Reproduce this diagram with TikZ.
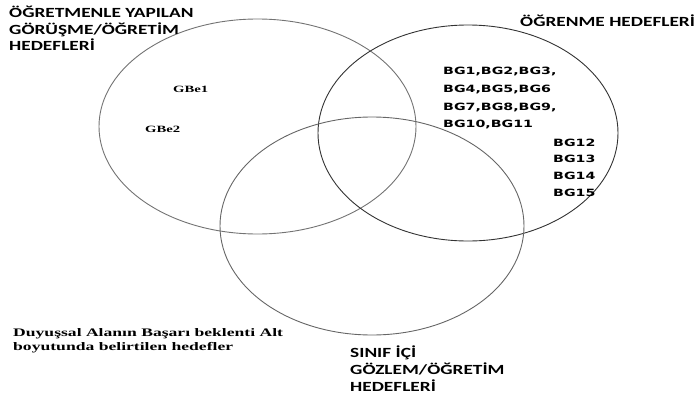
\documentclass[tikz,border=0pt]{standalone}
\usepackage{fontspec}
\setmainfont{Liberation Serif}
\newfontfamily\headfont[FakeStretch=1.38]{Carlito Bold}
\newfontfamily\codefont[FakeStretch=1.42]{DejaVu Sans Bold}
\newfontfamily\notefont[FakeStretch=1.53]{Liberation Serif Bold}
\usetikzlibrary{shapes.geometric}

\tikzset{
  set/.style={draw, ellipse, inner sep=0pt, line width=0.9pt},
  head/.style={anchor=base west, inner sep=0pt,
    font=\headfont\fontsize{14}{16}\selectfont},
  code/.style={anchor=base west, inner sep=0pt,
    font=\codefont\fontsize{10}{17}\selectfont},
  note/.style={anchor=base west, inner sep=0pt,
    font=\notefont\fontsize{11.5}{14}\selectfont},
  item/.style={anchor=base west, inner sep=0pt,
    font=\notefont\fontsize{9.6}{12}\selectfont}
}

\begin{document}
\begin{tikzpicture}[x=1pt,y=-1pt]
    \useasboundingbox (0,0) rectangle (699,399);
    % the three sets
    \node[set, draw=black!55, minimum width=317pt, minimum height=215pt] (gor) at (257.5,126.5) {};
    \node[set, draw=black!80, minimum width=300pt, minimum height=216pt] (ogr) at (468,133) {};
    \node[set, draw=black!60, minimum width=304pt, minimum height=218pt] (sin) at (372,226) {};
    % set titles
    \node[head] (gor1) at (9,17.5) {ÖĞRETMENLE YAPILAN};
    \node[head] (gor2) at (9,34) {GÖRÜŞME/ÖĞRETİM};
    \node[head] (gor3) at (9,50.5) {HEDEFLERİ};
    \node[head] (ogr1) at (520,26.5) {ÖĞRENME HEDEFLERİ};
    \node[head] (sin1) at (350,357) {SINIF İÇİ};
    \node[head] (sin2) at (350,374) {GÖZLEM/ÖĞRETİM};
    \node[head] (sin3) at (350,391) {HEDEFLERİ};
    % items
    \node[item] (gbe1) at (173,92) {GBe1};
    \node[item] (gbe2) at (145,132) {GBe2};
    \node[code] (bg1) at (443,74) {BG1,BG2,BG3,};
    \node[code] (bg4) at (443,92) {BG4,BG5,BG6};
    \node[code] (bg7) at (443,110) {BG7,BG8,BG9,};
    \node[code] (bg10) at (443,127) {BG10,BG11};
    \node[code] (bg12) at (553,146) {BG12};
    \node[code] (bg13) at (553,162) {BG13};
    \node[code] (bg14) at (553,179) {BG14};
    \node[code] (bg15) at (553,196) {BG15};
    \node[note] (duy1) at (13,336) {Duyuşsal Alanın Başarı beklenti Alt};
    \node[note] (duy2) at (13,350) {boyutunda belirtilen hedefler};
\end{tikzpicture}
\end{document}
